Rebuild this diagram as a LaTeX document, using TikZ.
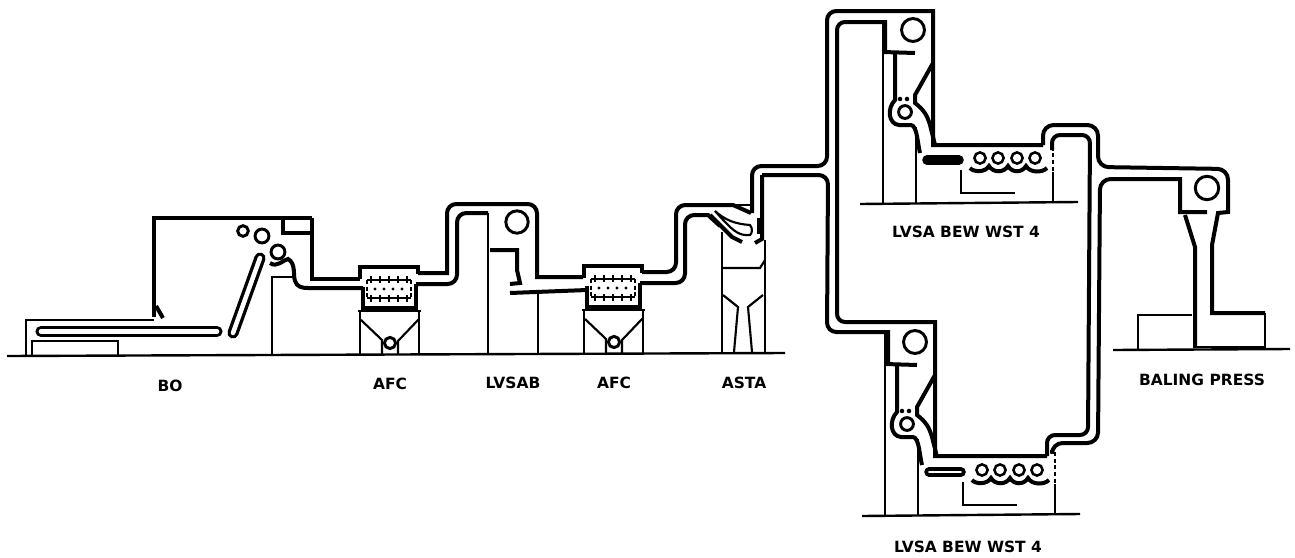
\documentclass[tikz,border=0pt]{standalone}
\usepackage{fontspec}
\setmainfont{DejaVu Sans}
\tikzset{
  pipe/.style={draw=black,line width=3pt,line join=miter},
  med/.style={draw=black,line width=1.6pt},
  thin line/.style={draw=black,line width=1.2pt},
  lbl/.style={font=\bfseries\fontsize{11.6}{12}\selectfont,inner sep=0pt},
  ring/.style={draw=black,fill=white,line width=2.2pt},
  base/.style={draw=black,line width=1.8pt}
}
\newcommand{\afcunit}[2]{%
\begin{scope}[shift={(#1,#2)}]
  \path[pipe] (360,279) -- (360,267) -- (418,267) -- (418,274);
  \path[pipe] (363,287) -- (363,308) -- (416,308) -- (416,284);
  \draw[thin line,densely dashed] (367,280) -- (367,298) (411,280) -- (411,298);
  \draw[thin line] (367,280) -- (411,280) (367,298) -- (411,298);
  \foreach \tx in {371,380,389,398,407} {
    \draw[thin line] (\tx,276) -- (\tx,283) (\tx,295) -- (\tx,302);
  }
  \foreach \tx in {375,384,393,402} { \fill (\tx,289) circle (1.3pt); }
  \draw[med] (360,310) -- (360,354) (419,310) -- (419,354);
  \draw[med] (358,311) -- (421,311);
  \draw[med] (361,320) -- (382,340) -- (382,354);
  \draw[med] (419,319) -- (398,341) -- (398,354);
  \draw[ring] (390,343) circle (4.2pt);
\end{scope}}
\newcommand{\lvsaunit}[3]{%
\begin{scope}[shift={(#1,#2)}]
  \draw[ring] (913,30) circle (8.6pt);
  \path[pipe] (883,52) -- (915,53);
  \draw[med] (883,22) -- (883,203);
  \draw[med] (916,127) -- (916,203);
  \path[pipe] (895,53) -- (895,100) .. controls (887,108) and (888,124) .. (899,125) -- (911,125) .. controls (917,126) and (917,140) .. (920,153);
  \path[pipe] (933,63) -- (915,95) -- (915,103) .. controls (924,110) and (927,115) .. (930,125) -- (935,145);
  \draw[ring] (905,112) circle (4.8pt);
  \fill (900,99) circle (1.7pt) (907,99) circle (1.7pt);
  \draw[line width=7.2pt,line cap=round] (927,160) -- (959,160);
  \draw[#3,line width=1.4pt,line cap=round] (927,160) -- (959,160);
  \path[pipe] (970,168) .. controls (973,172) and (985,173) .. (989,166) .. controls (993,173) and (1004,173) .. (1008,166) .. controls (1012,173) and (1022,173) .. (1026,166) .. controls (1030,173) and (1042,173) .. (1047,168);
  \foreach \rx in {980,998,1017,1035} { \draw[ring,line width=1.9pt] (\rx,158) circle (4.2pt); }
  \draw[med] (961,170) -- (961,193) -- (1015,193);
  \draw[base] (860,204) -- (1078,202);
  \draw[med,densely dashed] (1053,140) -- (1053,172);
  \draw[med] (1053,172) -- (1053,202);
\end{scope}}
\begin{document}
\begin{tikzpicture}[x=0.75pt,y=-0.75pt]
\useasboundingbox (0,0) rectangle (1295,557);
% ground lines
\draw[base] (7,356) -- (785,353);
\draw[base] (1113,350) -- (1290,349);
% BO
\path[pipe] (154,317) -- (154,218) -- (312,218);
\path[pipe] (283,218) -- (283,233) -- (312,233);
\path[pipe] (312,218) -- (312,279) -- (360,279);
\draw[med] (154,320) -- (26,320) -- (26,355);
\draw[med] (32,355) -- (32,341) -- (118,341) -- (118,355);
\path[pipe] (156,306) -- (163,318);
\draw[line width=8.4pt,line cap=round] (41,331.5) -- (217,331.5);
\draw[white,line width=3.4pt,line cap=round] (41,331.5) -- (217,331.5);
\draw[line width=8.4pt,line cap=round] (233,333) -- (260,258);
\draw[white,line width=3.4pt,line cap=round] (233,333) -- (260,258);
\draw[ring] (243,231) circle (4pt);
\draw[ring] (262,236) circle (5.2pt);
\draw[ring] (278,252) circle (5.2pt);
\draw[med] (272,355) -- (272,277) -- (295,277);
\path[pipe] (270,263) .. controls (277,268) and (283,260) .. (288,259) .. controls (296,263) and (293,276) .. (295,281) .. controls (297,287) and (302,288) .. (308,288) -- (363,288);
% AFC units
\afcunit{0}{0}
\afcunit{224}{-1}
% main pipe, upper line
\path[pipe] (418,273) -- (447,273) [rounded corners=7pt] -- (447,204) -- (537,204) [sharp corners] -- (537,277) -- (583,277);
\path[pipe] (642,272) [rounded corners=7pt] -- (676,272) -- (676,205) [sharp corners] -- (733,205) -- (751,213);
% main pipe, lower line
\path[pipe] (416,284) [rounded corners=7pt] -- (457,284) -- (457,213) [sharp corners] -- (488,213);
\draw[line width=2pt] (488,213) -- (488,354) (538,294) -- (538,354);
\path[pipe] (490,250) -- (517,250) -- (517,270) -- (520,283) -- (510,284);
\path[pipe] (510,293) -- (587,290);
\draw[ring] (517,222) circle (8.4pt);
\path[pipe] (640,283) [rounded corners=7pt] -- (685,283) -- (685,215) [sharp corners] -- (708,215) -- (720,226);
% ASTA
\draw[med] (733,205) -- (752,205);
\path[pipe] (710,215) -- (732,237) -- (742,242);
\path[draw=black,fill=white,line width=1.6pt] (715,211) .. controls (725,220) and (735,224) .. (750,225) .. controls (753,228) and (752,234) .. (750,235) .. controls (738,236) and (733,231) .. (715,211) -- cycle;
\path[pipe] (755,243) -- (762,239) -- (762,175);
\draw[line width=2.6pt] (759,218) -- (759,234);
\draw[med] (722,232) -- (722,353);
\draw[med] (722,268) -- (760,268) -- (765,260);
\draw[med] (765,240) -- (765,353);
\draw[med] (723,295) -- (738,307) -- (734,352);
\draw[med] (763,295) -- (748,307) -- (752,352);
% rising pipes
\path[pipe] (752,213) [rounded corners=7pt] -- (752,166) -- (827,166) -- (827,11) [sharp corners] -- (933,11) -- (933,145) -- (1043,145);
\path[pipe] (762,175) [rounded corners=7pt] -- (828,175) -- (827,332) [sharp corners] -- (888,332) -- (888,362);
\path[pipe] (885,52) -- (885,22) [rounded corners=6pt] -- (837,22) -- (837,322) [sharp corners] -- (935,322) -- (935,456) -- (1047,456);
% far right loop
\path[pipe] (1043,145) [rounded corners=8pt] -- (1043,125) -- (1098,125) -- (1098,167) -- (1228,169) [sharp corners] -- (1228,212) -- (1218,213) -- (1212,245) -- (1212,313) -- (1265,313);
\path[pipe] (1052,150) [rounded corners=6pt] -- (1052,135) -- (1090,135) -- (1088,435) -- (1047,435) -- (1047,456);
\path[pipe] (1207,212) -- (1180,212) -- (1180,179) [rounded corners=8pt] -- (1100,179) -- (1098,443) -- (1052,443) [sharp corners] -- (1052,450);
% LVSA units
\lvsaunit{0}{0}{black}
\lvsaunit{2}{312}{white}
% baling press
\draw[ring] (1207,188) circle (8.8pt);
\path[pipe] (1185,215) -- (1195,247) -- (1195,348);
\draw[med] (1265,313) -- (1265,347) -- (1195,347);
\draw[med] (1192,315) -- (1138,315) -- (1138,349);
% labels
\node[lbl] (bo) at (170,386) {BO};
\node[lbl] (afca) at (390,384) {AFC};
\node[lbl] (lvsab) at (513,383) {LVSAB};
\node[lbl] (afcb) at (614,383) {AFC};
\node[lbl] (asta) at (744,383) {ASTA};
\node[lbl] (lvsaa) at (966,232) {LVSA BEW WST 4};
\node[lbl] (lvsac) at (968,547) {LVSA BEW WST 4};
\node[lbl] (press) at (1202,380) {BALING PRESS};
\end{tikzpicture}
\end{document}
